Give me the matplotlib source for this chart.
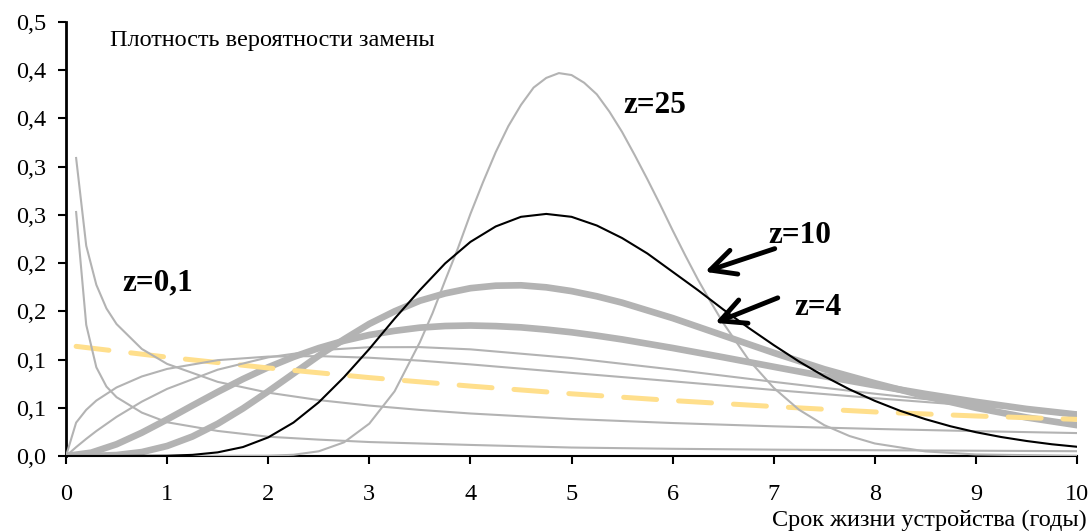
import matplotlib.pyplot as plt

plt.rcParams['font.family'] = ['Liberation Serif', 'DejaVu Serif']

# ---- data ----
# z=0,1 (thin, falling fast)
x_z01 = [0.1, 0.2, 0.3, 0.4, 0.5, 0.75, 1, 1.5, 2, 2.5, 3, 4, 5, 6, 7, 8, 9, 10]
y_z01 = [0.253, 0.136, 0.092, 0.072, 0.061, 0.045, 0.035, 0.026, 0.020, 0.017, 0.0145,
         0.0115, 0.0088, 0.0075, 0.0066, 0.0060, 0.0055, 0.0050]

# z=0,5 (thin, falling)
x_z05 = [0.1, 0.2, 0.3, 0.4, 0.5, 0.75, 1, 1.5, 2, 2.5, 3, 3.5, 4, 5, 6, 7, 8, 9, 10]
y_z05 = [0.309, 0.218, 0.1775, 0.153, 0.1368, 0.111, 0.0955, 0.0769, 0.0657, 0.058, 0.0523,
         0.0478, 0.0441, 0.0384, 0.0342, 0.0308, 0.0281, 0.0258, 0.0238]

# z=1 (dashed)
x_z1 = [0.1, 1, 2, 3, 4, 5, 6, 7, 8, 9, 10]
y_z1 = [0.1137, 0.1025, 0.0913, 0.0813, 0.0725, 0.0645, 0.0575, 0.0513, 0.0457, 0.0415, 0.038]

# z=1,5 and z=2 (thin, rising)
x_thin = [0, 0.1, 0.2, 0.3, 0.5, 0.75, 1, 1.5, 2, 2.5, 3, 3.5, 4, 5, 6, 7, 8, 9, 10]
y_z15 = [0, 0.0346, 0.0479, 0.0575, 0.0711, 0.0825, 0.0903, 0.0994, 0.1031, 0.1036, 0.1019,
         0.0989, 0.095, 0.0862, 0.0775, 0.0685, 0.060, 0.052, 0.045]
y_z2 = [0, 0.0092, 0.0178, 0.0259, 0.0406, 0.0564, 0.0696, 0.0895, 0.1023, 0.1097, 0.1128,
        0.1129, 0.1106, 0.1016, 0.0897, 0.0769, 0.0646, 0.0534, 0.0437]

# z=3 and z=4 (thick)
x_thick = [0, 0.25, 0.5, 0.75, 1, 1.25, 1.5, 1.75, 2, 2.25, 2.5, 2.75, 3, 3.25, 3.5, 3.75,
           4, 4.25, 4.5, 4.75, 5, 5.25, 5.5, 6, 6.5, 7, 7.5, 8, 8.5, 9, 9.5, 10]
y_z3 = [0, 0.0035, 0.0122, 0.0242, 0.0379, 0.0523, 0.0664, 0.0798, 0.092, 0.1027, 0.1119,
        0.1195, 0.1255, 0.1298, 0.1331, 0.1348, 0.1353, 0.1347, 0.1334, 0.1311, 0.1283,
        0.1248, 0.1209, 0.112, 0.1024, 0.0925, 0.0827, 0.0733, 0.0644, 0.0562, 0.0488, 0.043]
y_z4 = [0, 0.0001, 0.001, 0.0041, 0.0104, 0.0202, 0.0334, 0.0493, 0.067, 0.0855, 0.104,
        0.121, 0.137, 0.150, 0.161, 0.1686, 0.174, 0.1766, 0.177, 0.1749, 0.171,
        0.1656, 0.159, 0.143, 0.125, 0.107, 0.090, 0.0755, 0.062, 0.050, 0.040, 0.032]

# z=10 (black)
x_z10 = [0, 0.5, 1, 1.25, 1.5, 1.75, 2, 2.25, 2.5, 2.75, 3, 3.25, 3.5, 3.75, 4, 4.25, 4.5,
         4.75, 5, 5.25, 5.5, 5.75, 6, 6.25, 6.5, 6.75, 7, 7.25, 7.5, 7.75, 8, 8.25, 8.5,
         8.75, 9, 9.25, 9.5, 9.75, 10]
y_z10 = [0, 0.0, 0.0003, 0.0012, 0.0038, 0.0093, 0.0193, 0.0347, 0.0557, 0.0818, 0.111,
         0.1424, 0.172, 0.1997, 0.222, 0.238, 0.248, 0.251, 0.248, 0.239, 0.226, 0.210,
         0.191, 0.172, 0.152, 0.133, 0.115, 0.098, 0.0827, 0.0691, 0.0572, 0.0469, 0.0382,
         0.0308, 0.0247, 0.0197, 0.0156, 0.0122, 0.0096]

# z=25 (thin, sharp peak)
x_z25 = [0, 1, 2, 2.25, 2.5, 2.75, 3, 3.25, 3.5, 3.625, 3.75, 3.875, 4, 4.125, 4.25,
         4.375, 4.5, 4.625, 4.75, 4.875, 5, 5.125, 5.25, 5.375, 5.5, 5.625, 5.75, 5.875,
         6, 6.125, 6.25, 6.375, 6.5, 6.75, 7, 7.25, 7.5, 7.75, 8, 8.5, 9, 10]
y_z25 = [0, 0, 0.0003, 0.0013, 0.0049, 0.0142, 0.0336, 0.0671, 0.118, 0.148, 0.182,
         0.215, 0.251, 0.284, 0.315, 0.342, 0.364, 0.382, 0.392, 0.397, 0.395, 0.387,
         0.375, 0.357, 0.336, 0.312, 0.287, 0.261, 0.234, 0.208, 0.183, 0.160, 0.138,
         0.100, 0.0707, 0.048, 0.032, 0.0207, 0.013, 0.0048, 0.0016, 0.0002]

x_ticks = [0, 1, 2, 3, 4, 5, 6, 7, 8, 9, 10]
y_ticks = [0, 0.05, 0.1, 0.15, 0.2, 0.25, 0.3, 0.35, 0.4, 0.45]
y_labels = ['0,0', '0,1', '0,1', '0,2', '0,2', '0,3', '0,3', '0,4', '0,4', '0,5']

# ---- plot ----
fig = plt.figure(figsize=(10.91, 5.31), dpi=100)
ax = fig.add_axes([0.0605, 0.1412, 0.9267, 0.8174])

gray = '#b3b3b3'
ax.plot(x_thick, y_z3, color=gray, lw=4.8, zorder=2, solid_capstyle='round', solid_joinstyle='round')
ax.plot(x_thick, y_z4, color=gray, lw=4.8, zorder=2, solid_capstyle='round', solid_joinstyle='round')
ax.plot(x_z1, y_z1, color='#ffdf8c', lw=3.6, dashes=(6.6, 4.4),
        dash_capstyle='round', zorder=2.5)
for xs, ys in [(x_z01, y_z01), (x_z05, y_z05), (x_thin, y_z15), (x_thin, y_z2), (x_z25, y_z25)]:
    ax.plot(xs, ys, color=gray, lw=1.5, zorder=3, solid_joinstyle='round')
ax.plot(x_z10, y_z10, color='black', lw=1.5, zorder=4, solid_joinstyle='round')

ax.set_xlim(0, 10)
ax.set_ylim(0, 0.45)
ax.set_xticks(x_ticks)
ax.set_xticklabels([str(v) for v in x_ticks])
ax.set_yticks(y_ticks)
ax.set_yticklabels(y_labels)
ax.tick_params(axis='both', labelsize=17.5, direction='out', length=6, width=1.5)
ax.tick_params(axis='x', pad=14)
ax.tick_params(axis='y', pad=8)

ax.spines['top'].set_visible(False)
ax.spines['right'].set_visible(False)
ax.spines['left'].set_linewidth(2)
ax.spines['bottom'].set_linewidth(1.5)

ax.text(0.435, 0.431, 'Плотность вероятности замены', fontsize=17.5, ha='left', va='center')
fig.text(0.9963, 0.0207, 'Срок жизни устройства (годы)', fontsize=17.5, ha='right', va='center')

ax.text(5.82, 0.363, 'z=25', fontsize=22.5, fontweight='bold', ha='center', va='center')
ax.text(0.91, 0.179, 'z=0,1', fontsize=22.5, fontweight='bold', ha='center', va='center')
ax.text(7.26, 0.229, 'z=10', fontsize=22.5, fontweight='bold', ha='center', va='center')
ax.text(7.44, 0.1545, 'z=4', fontsize=22.5, fontweight='bold', ha='center', va='center')

arrow = dict(arrowstyle='->,head_length=0.9,head_width=0.45', lw=3.5, color='black',
             mutation_scale=20, shrinkA=0, shrinkB=0)
ax.annotate('', xy=(6.32, 0.191), xytext=(7.01, 0.215), arrowprops=arrow, zorder=5)
ax.annotate('', xy=(6.42, 0.138), xytext=(7.04, 0.164), arrowprops=arrow, zorder=5)

fig.savefig('out.png', dpi=100)
